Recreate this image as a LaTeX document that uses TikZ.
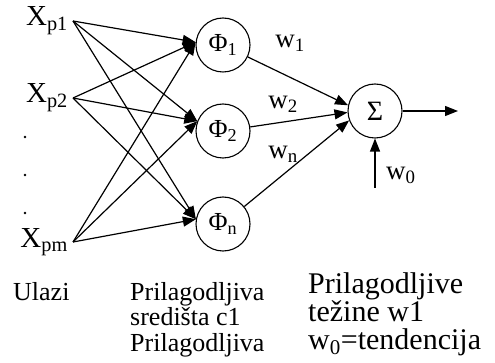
\documentclass[tikz,border=0pt]{standalone}
\usepackage{fontspec}
\setmainfont{Liberation Serif}
\usetikzlibrary{arrows.meta}
\tikzset{
  unit/.style={circle,draw,line width=1.1pt,minimum size=54pt,inner sep=0pt,
    font=\fontsize{26}{26}\selectfont},
  sumunit/.style={unit,font=\fontsize{28}{28}\selectfont},
  inlabel/.style={inner sep=2pt,inner xsep=5pt,font=\fontsize{29}{29}\selectfont},
  wlabel/.style={inner sep=0pt,font=\fontsize{27}{27}\selectfont},
  caption/.style={anchor=north west,align=left,inner sep=0pt,
    font=\fontsize{26}{25.5}\selectfont},
  arrow/.style={-{Triangle[length=13pt,width=10pt]},line width=1.2pt}
}

\begin{document}
\begin{tikzpicture}[x=1pt,y=-1pt]
  \useasboundingbox (0,0) rectangle (495,363);
  % inputs
  \node[inlabel,anchor=east] (xp1) at (73,21) {X\textsubscript{p1}};
  \node[inlabel,anchor=east] (xp2) at (73,98) {X\textsubscript{p2}};
  \node[inlabel,anchor=east] (xpm) at (73,242) {X\textsubscript{pm}};
  \foreach \y in {137,175,213} \fill (25,\y) circle (1.3pt);
  % hidden units and output unit
  \node[unit] (phi1) at (223,45) {Φ\textsubscript{1}};
  \node[unit] (phi2) at (223,131) {Φ\textsubscript{2}};
  \node[unit] (phin) at (223,224) {Φ\textsubscript{n}};
  \node[sumunit] (sum) at (375,111) {Σ};
  \coordinate (bias) at (375,188);
  \coordinate (out) at (458,111);
  \foreach \src in {xp1,xp2,xpm}{
    \draw[arrow] (\src.east) -- (phi1.174);
    \draw[arrow] (\src.east) -- (phi2.159);
    \draw[arrow] (\src.east) -- (phin.170);
  }
  \draw[arrow] (phi1) -- (sum.168);
  \draw[arrow] (phi2) -- (sum.183);
  \draw[arrow] (phin) -- (sum.200);
  \draw[arrow] (bias) -- (sum.south);
  \draw[arrow] (sum) -- (out);
  \node[wlabel] (w1) at (290,43) {w\textsubscript{1}};
  \node[wlabel] (w2) at (283,104) {w\textsubscript{2}};
  \node[wlabel] (wn) at (283,154) {w\textsubscript{n}};
  \node[wlabel,anchor=west] (w0) at (386,175) {w\textsubscript{0}};
  % captions
  \node[caption] (inputs) at (13,282) {Ulazi};
  \node[caption] (centres) at (130,282) {Prilagodljiva\\središta c1\\Prilagodljiva};
  \node[caption,font=\fontsize{30}{28}\selectfont] (weights) at (308,272.5)
    {Prilagodljive\\težine w1\\w\textsubscript{0}=tendencija};
\end{tikzpicture}
\end{document}
